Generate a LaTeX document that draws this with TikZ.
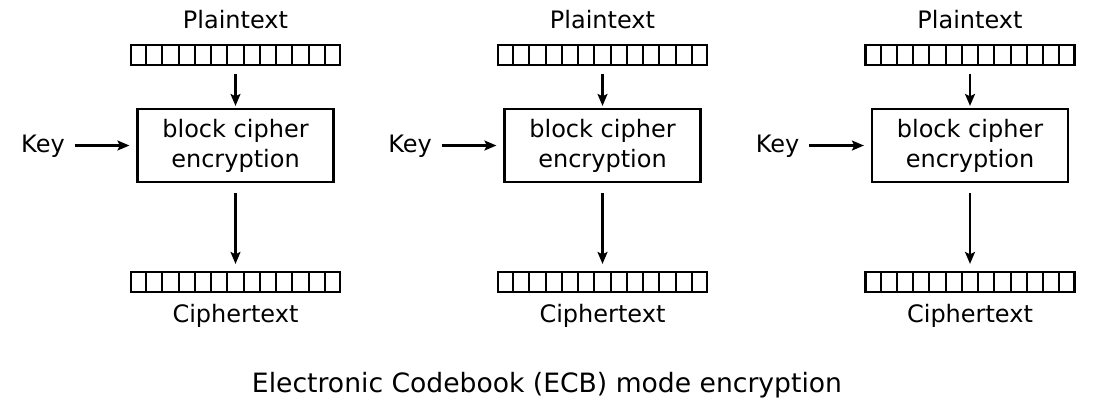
\documentclass[tikz,border=0pt]{standalone}
\usepackage{fontspec}
\setmainfont{DejaVu Sans}
\usetikzlibrary{arrows.meta,calc}
\begin{document}
\begin{tikzpicture}[x=1pt,y=-1pt,
  lbl/.style={font=\fontsize{24}{30}\selectfont, inner sep=0pt, anchor=base},
  reg/.style={draw, line width=2.2pt, minimum width=209pt, minimum height=20pt, inner sep=0pt},
  cipherbox/.style={draw, line width=2.2pt, minimum width=196pt, minimum height=73pt, align=center, font=\fontsize{24}{30}\selectfont, inner sep=0pt},
  arr/.style={-{Stealth[length=12pt,width=10pt,inset=2.5pt]}, line width=2.2pt}]
\useasboundingbox (0,0) rectangle (1094,400);
\foreach \c [count=\n] in {235.5,602.5,970}{
  \node[lbl] (pt\n) at (\c,28) {Plaintext};
  \node[reg] (pr\n) at (\c,55) {};
  \foreach \i in {1,...,12}
    \draw[line width=2.2pt] ($(pr\n.south west)!\i/13!(pr\n.south east)$) -- ($(pr\n.north west)!\i/13!(pr\n.north east)$);
  \node[cipherbox] (bc\n) at (\c,145.5) {block cipher\\encryption};
  \node[lbl] (key\n) at (\c-192.5,152) {Key};
  \node[reg] (cr\n) at (\c,282) {};
  \foreach \i in {1,...,12}
    \draw[line width=2.2pt] ($(cr\n.south west)!\i/13!(cr\n.south east)$) -- ($(cr\n.north west)!\i/13!(cr\n.north east)$);
  \node[lbl] (ct\n) at (\c,322) {Ciphertext};
  \draw[arr, shorten <=8pt, shorten >=2pt] (pr\n.south) -- (bc\n.north);
  \draw[arr, shorten <=10pt, shorten >=7pt] (bc\n.south) -- (cr\n.north);
  \draw[arr, shorten <=10pt, shorten >=7pt] (key\n.east |- bc\n.west) -- (bc\n.west);
}
\node[font=\fontsize{26.6}{32}\selectfont, inner sep=0pt, anchor=base] (title) at (547,392) {Electronic Codebook (ECB) mode encryption};
\end{tikzpicture}
\end{document}
